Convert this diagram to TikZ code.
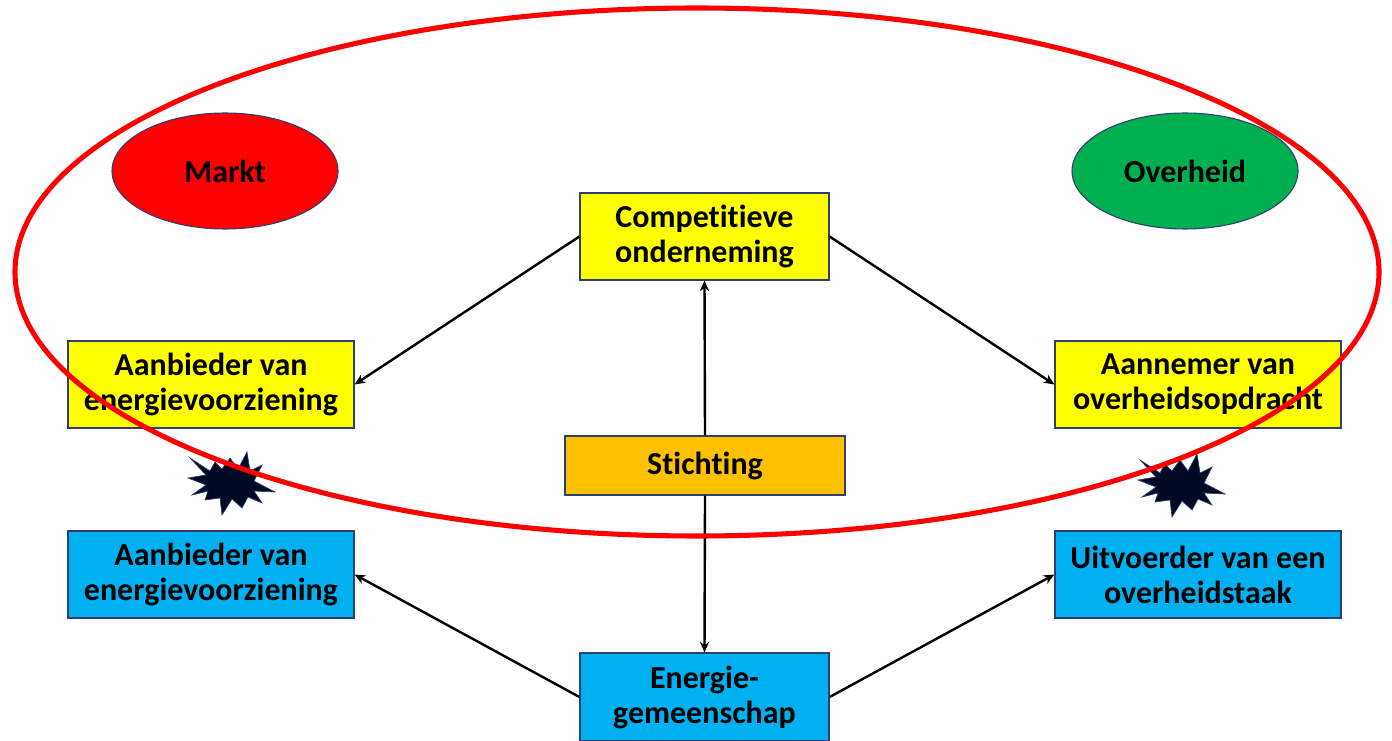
\documentclass[tikz,border=0pt]{standalone}
\usepackage{fontspec}
\setmainfont{Carlito}[Ligatures={NoCommon,NoRare}]
\usetikzlibrary{arrows.meta,shapes.geometric}
\definecolor{boxborder}{HTML}{2F3F6F}
\definecolor{yel}{HTML}{FFFF00}
\definecolor{orng}{HTML}{FFC000}
\definecolor{skyb}{HTML}{00B0F0}
\definecolor{grn}{HTML}{00B050}
\definecolor{redr}{HTML}{FF0000}
\definecolor{burst}{HTML}{000A22}
\tikzset{
  box/.style={draw=boxborder, line width=0.9pt, align=center, inner sep=0pt,
    font=\fontsize{24}{26.25}\selectfont\bfseries, text=black},
  widebox/.style={box, minimum width=214.5pt, minimum height=65.25pt},
  midbox/.style={box, minimum width=186.75pt, minimum height=65.25pt},
  oval/.style={ellipse, draw=boxborder, line width=0.8pt, inner sep=0pt,
    minimum width=169.5pt, minimum height=87pt,
    font=\fontsize{24}{26.25}\selectfont\bfseries},
  conn/.style={line width=1.8pt, -{Stealth[length=8pt,width=7pt]}},
  explo/.pic={\fill[burst, draw=boxborder, line width=0.5pt]
    (0,-25) -- (8,-14) -- (17,-31) -- (20,-12) -- (32,-18) -- (24,-2) --
    (45,9) -- (24,8) -- (32,20) -- (18,14) -- (12,25) -- (2,16) --
    (-8,32) -- (-10,15) -- (-25,17) -- (-22,8) -- (-38,12) -- (-24,2) --
    (-42,-5) -- (-24,-8) -- (-40,-25) -- (-20,-12) -- (-15,-21) -- (-8,-14) -- cycle;}
}
\begin{document}
\begin{tikzpicture}[x=0.75pt,y=-0.75pt]
\useasboundingbox (0,0) rectangle (1392,741);
\fill[white] (0,0) rectangle (1392,741);

\node[oval, fill=redr] (markt) at (225,171) {Markt};
\node[oval, fill=grn] (overheid) at (1185,171) {Overheid};

\node[midbox, fill=yel] (comp) at (704.5,236.5) {Competitieve\\onderneming};
\node[widebox, fill=yel] (aanY) at (211,384.5) {Aanbieder van\\energievoorziening};
\node[widebox, fill=yel] (aannemer) at (1198,384.5) {Aannemer van\\overheidsopdracht};
\node[box, fill=orng, minimum width=210pt, minimum height=44.25pt] (sticht) at (705,465.5) {Stichting};
\node[widebox, fill=skyb] (aanB) at (211,574.5) {Aanbieder van\\energievoorziening};
\node[widebox, fill=skyb] (uitv) at (1198,574.5) {Uitvoerder van een\\overheidstaak};
\node[midbox, fill=skyb, minimum height=66pt] (energie) at (704.5,697) {Energie-\\gemeenschap};

\draw[conn] (comp.west) -- (aanY.east);
\draw[conn] (comp.east) -- (aannemer.west);
\draw[conn] (sticht.north) -- (comp.south);
\draw[conn] (sticht.south) -- (energie.north);
\draw[conn] (energie.west) -- (aanB.east);
\draw[conn] (energie.east) -- (uitv.west);

\pic at (230,483) {explo};
\pic at (1180,485) {explo};

\draw[redr, line width=3.8pt] (697,272) ellipse [x radius=511.5pt, y radius=198pt];
\end{tikzpicture}
\end{document}
